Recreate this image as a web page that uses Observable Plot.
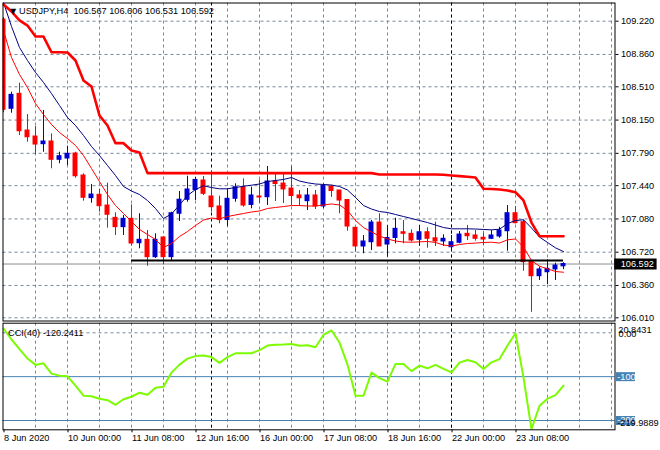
<!DOCTYPE html>
<html><head><meta charset="utf-8">
<script src="https://cdn.jsdelivr.net/npm/d3@7"></script>
<script src="https://cdn.jsdelivr.net/npm/@observablehq/plot@0.6"></script>
<style>
html,body{margin:0;padding:0;background:#fff;}
#chart{position:relative;width:660px;height:450px;overflow:hidden;background:#fff;}
#chart svg{position:absolute;left:0;display:block;overflow:visible;}
</style></head><body><div id="chart"></div>
<script>
// ---------- data (USDJPY H4) ----------
const titleText = "USDJPY,H4  106.567 106.606 106.531 106.592";
const cciTitle = "CCI(40) -120.2411";

const opens = [
109.238,108.272,108.434,108.037,107.972,107.889,107.918,107.720,107.734,107.788,
107.550,107.305,107.341,107.225,107.092,106.991,107.081,106.817,106.854,106.666,
106.879,106.666,107.136,107.287,107.393,107.496,107.323,107.215,107.068,107.298,
107.423,107.231,107.323,107.315,107.485,107.463,107.409,107.334,107.272,107.334,
107.215,107.431,107.388,107.285,106.984,106.782,106.828,107.041,106.803,106.874,
106.936,106.919,106.854,106.936,106.871,106.836,106.774,106.822,106.919,106.901,
106.876,106.865,106.890,106.947,107.142,107.045,106.622,106.460,106.503,106.533,
106.567];
const highs = [
109.260,108.452,108.549,108.210,108.080,108.254,108.001,107.802,107.867,107.802,
107.568,107.453,107.399,107.467,107.146,107.117,107.233,107.136,106.955,106.919,
106.890,107.153,107.377,107.542,107.529,107.539,107.599,107.326,107.406,107.460,
107.514,107.423,107.501,107.647,107.568,107.561,107.647,107.388,107.409,107.388,
107.458,107.442,107.388,107.287,106.984,106.901,107.063,107.136,107.009,107.088,
107.063,106.962,107.009,106.984,107.045,106.908,106.901,106.944,107.009,106.955,
106.926,106.955,106.990,107.225,107.215,107.071,106.630,106.558,106.638,106.601,
106.606];
const lows = [
108.230,108.224,107.983,107.910,107.777,107.802,107.623,107.677,107.658,107.521,
107.272,107.250,107.153,106.980,106.901,106.901,106.785,106.757,106.568,106.652,
106.584,106.619,107.052,107.261,107.280,107.334,107.153,107.027,106.998,107.261,
107.207,107.190,107.247,107.225,107.269,107.247,107.225,107.215,107.171,107.182,
107.193,107.313,107.136,106.947,106.720,106.703,106.738,106.782,106.666,106.811,
106.811,106.828,106.782,106.763,106.782,106.782,106.727,106.811,106.846,106.839,
106.792,106.857,106.871,106.731,107.027,106.514,106.070,106.414,106.370,106.414,
106.531];
const closes = [
108.261,108.423,108.029,107.964,107.885,107.918,107.720,107.759,107.785,107.542,
107.309,107.344,107.218,107.125,106.991,107.081,106.814,106.854,106.666,106.854,
106.666,107.142,107.288,107.399,107.502,107.352,107.207,107.068,107.298,107.423,
107.225,107.334,107.312,107.485,107.458,107.399,107.328,107.304,107.334,107.215,
107.436,107.382,107.279,106.998,106.782,106.836,107.041,106.782,106.874,106.973,
106.919,106.846,106.936,106.865,106.836,106.865,106.828,106.911,106.893,106.865,
106.857,106.901,106.955,107.142,107.034,106.612,106.460,106.533,106.540,106.576,
106.592];
// thick red stepped envelope
const upperLine = [
109.401,109.325,109.228,109.173,109.054,109.054,108.884,108.884,108.881,108.795,
108.578,108.513,108.199,108.091,107.900,107.900,107.821,107.799,107.576,107.576,
107.576,107.576,107.576,107.576,107.576,107.576,107.576,107.576,107.576,107.576,
107.576,107.576,107.576,107.576,107.576,107.576,107.576,107.576,107.576,107.576,
107.576,107.576,107.576,107.576,107.576,107.576,107.576,107.561,107.561,107.561,
107.561,107.561,107.561,107.561,107.561,107.558,107.550,107.543,107.536,107.528,
107.406,107.404,107.398,107.388,107.369,107.280,107.041,106.893,106.893,106.893,
106.893];
// slow moving average (navy)
const slowMA = [
109.422,109.163,108.935,108.795,108.665,108.557,108.437,108.308,108.178,108.091,
107.983,107.864,107.766,107.658,107.550,107.431,107.382,107.344,107.279,107.193,
107.085,107.133,107.231,107.334,107.398,107.439,107.420,107.406,107.406,107.420,
107.434,107.445,107.458,107.485,107.496,107.507,107.528,107.490,107.471,107.458,
107.453,107.447,107.431,107.393,107.312,107.225,107.187,107.160,107.150,107.128,
107.106,107.085,107.063,107.041,107.014,106.987,106.973,106.973,106.973,106.971,
106.966,106.962,106.969,107.030,107.063,107.071,106.982,106.884,106.825,106.767,
106.727];
// fast moving average (red)
const fastMA = [
109.119,108.827,108.643,108.502,108.329,108.210,108.102,108.015,107.950,107.875,
107.766,107.626,107.485,107.344,107.225,107.139,107.052,106.966,106.911,106.857,
106.771,106.814,106.890,106.944,107.009,107.068,107.090,107.081,107.106,107.123,
107.139,107.155,107.166,107.193,107.204,107.214,107.225,107.225,107.220,107.220,
107.231,107.242,107.231,107.171,107.063,106.987,106.939,106.895,106.863,106.841,
106.830,106.828,106.832,106.836,106.825,106.798,106.787,106.803,106.814,106.819,
106.825,106.828,106.819,106.854,106.863,106.776,106.630,106.568,106.540,106.511,
106.503];
// CCI(40)
const cci = [
9.8,-15.3,-37.1,-58.8,-73.2,-69.6,-93.1,-97.7,-99.3,-120.6,
-143.5,-144.6,-150.3,-153.8,-164.1,-151.5,-145.8,-136.6,-141.2,-125.2,
-122.9,-90.8,-72.5,-58.8,-53.1,-51.9,-55.4,-68.6,-55.4,-46.7,
-46.7,-46.7,-39.4,-29.1,-27.5,-26.8,-25.6,-29.7,-28.4,-33.0,
-5.0,5.3,-22.2,-72.5,-143.5,-143.5,-90.8,-103.4,-111.4,-70.9,
-70.9,-87.4,-74.8,-81.0,-73.2,-82.4,-90.2,-68.0,-62.2,-67.3,
-82.4,-67.3,-60.0,-29.1,-1.0,-102.1,-219.9889,-166.4,-150.3,-142.3,
-120.2411];
const cciLevels = [-100, -200];
const cciMaxLabel = "20.8431", cciMaxValue = 20.8431;
const cciMinLabel = "-219.9889", cciMinValue = -219.9889;
const cciZeroLabel = "0.00";

const priceTickLabels = ["106.010","106.360","106.720","107.080","107.440","107.790","108.150","108.510","108.860","109.220"];
const dateTickIndex = [0, 8, 16, 24, 32, 40, 48, 56, 64];
const dateTickLabels = ["8 Jun 2020","10 Jun 00:00","11 Jun 08:00","12 Jun 16:00","16 Jun 00:00","17 Jun 08:00","18 Jun 16:00","22 Jun 00:00","23 Jun 08:00"];
const weekStartIndex = [26, 56];
const supportLevel = 106.630, supportFrom = 16;

// ---------- build ----------
const priceTickValues = priceTickLabels.map(Number);
const last = closes.length - 1;
const bars = d3.range(closes.length).map(i => ({
  i, open: opens[i], high: highs[i], low: lows[i], close: closes[i],
  up: closes[i] >= opens[i], upper: upperLine[i], slow: slowMA[i], fast: fastMA[i], cci: cci[i]
}));
const BULL = "#0000cd", BEAR = "#ff0000", GRID = "#778899";
const FONT = "'Liberation Sans', Arial, sans-serif";
const FS = "9.2px";
const gridIndex = d3.range(4, 77, 4);
const dash = "3,3";

const main = Plot.plot({
  width: 660, height: 321,
  marginLeft: 2.5, marginRight: 45.5, marginTop: 2.5, marginBottom: 0.5,
  style: {fontFamily: FONT, fontSize: FS, color: "#000", background: "transparent", overflow: "visible"},
  color: {type: "identity"},
  x: {domain: [0, 76], range: [3, 611], axis: null},
  y: {domain: [106.01, 109.22], range: [317.3, 20.7], axis: null},
  marks: [
    Plot.ruleY(priceTickValues, {stroke: GRID, strokeDasharray: dash}),
    Plot.ruleX(gridIndex, {stroke: GRID, strokeDasharray: dash}),
    Plot.ruleX(weekStartIndex, {stroke: "#000", strokeDasharray: dash}),
    Plot.ruleY([closes[last]], {stroke: "#8a8f96"}),
    Plot.ruleX(bars, {x: "i", y1: "low", y2: "high", stroke: d => d.up ? BULL : BEAR, clip: true}),
    Plot.rect(bars, {x1: d => d.i - 0.31, x2: d => d.i + 0.31,
      y1: d => Math.min(d.open, d.close), y2: d => Math.max(d.open, d.close),
      insetTop: -0.5, insetBottom: -0.5,
      fill: d => d.up ? BULL : BEAR, clip: true}),
    Plot.line(bars, {x: "i", y: "fast", stroke: "#ff0000", strokeWidth: 1, clip: true}),
    Plot.line(bars, {x: "i", y: "slow", stroke: "#000080", strokeWidth: 1, clip: true}),
    Plot.line(bars, {x: "i", y: "upper", stroke: "#ff0000", strokeWidth: 2.6, clip: true}),
    Plot.ruleY([supportLevel], {x1: supportFrom, x2: last, stroke: "#000", strokeWidth: 2}),
    Plot.frame({stroke: "#000"}),
    Plot.axisY({anchor: "right", ticks: priceTickValues, label: null,
      tickFormat: d => priceTickLabels[priceTickValues.indexOf(d)],
      tickSize: 3, tickPadding: 3, stroke: "#000"}),
    Plot.ruleY([closes[last]], {x1: 76.4, x2: 81.7, stroke: "#000", strokeWidth: 11}),
    Plot.text([closes[last]], {x: 76.4, y: d => d, text: d => d.toFixed(3), dx: 6, textAnchor: "start", fill: "#fff"}),
    Plot.text([titleText], {frameAnchor: "top-left", dx: 16, dy: 8, textAnchor: "start", lineAnchor: "middle", fill: "#000"}),
    Plot.text(["\u25BC"], {frameAnchor: "top-left", dx: 7, dy: 8, fontSize: 8, fontFamily: "DejaVu Sans", lineAnchor: "middle", fill: "#000"})
  ]
});

const sub = Plot.plot({
  width: 660, height: 129,
  marginLeft: 2.5, marginRight: 45.5, marginTop: 1.7, marginBottom: 20.7,
  style: {fontFamily: FONT, fontSize: FS, color: "#000", background: "transparent", overflow: "visible"},
  x: {domain: [0, 76], range: [3, 611], label: null},
  y: {domain: [-200, 0], range: [99, 11.3], axis: null},
  marks: [
    Plot.ruleX(gridIndex, {stroke: GRID, strokeDasharray: dash}),
    Plot.ruleX(weekStartIndex, {stroke: "#000", strokeDasharray: dash}),
    Plot.ruleY([0], {stroke: GRID, strokeDasharray: dash}),
    Plot.ruleY(cciLevels, {stroke: "#4682b4"}),
    Plot.line(bars, {x: "i", y: "cci", stroke: "#7cfc00", strokeWidth: 2, clip: true}),
    Plot.frame({stroke: "#000"}),
    Plot.text([cciTitle], {frameAnchor: "top-left", dx: 5, dy: 9.6, textAnchor: "start", lineAnchor: "middle", fill: "#000"}),
    Plot.ruleY(cciLevels, {x1: 76.6, x2: 79.0, stroke: "#4682b4", strokeWidth: 9}),
    Plot.text(cciLevels, {x: 76.6, y: d => d, text: d => String(d), dx: 1, textAnchor: "start", fill: "#fff"}),
    Plot.text([cciMaxValue], {x: 76.6, y: d => d, text: () => cciMaxLabel, dx: 2, dy: 6.2, textAnchor: "start", fill: "#000"}),
    Plot.text([0], {x: 76.6, y: d => d, text: () => cciZeroLabel, dx: 2.3, dy: 1, textAnchor: "start", fill: "#000"}),
    Plot.text([cciMinValue], {x: 76.6, y: d => d, text: () => cciMinLabel, dx: 1, dy: -6, textAnchor: "start", fill: "#000"}),
    Plot.axisX({anchor: "bottom", ticks: dateTickIndex, label: null,
      tickFormat: d => dateTickLabels[dateTickIndex.indexOf(d)],
      tickSize: 3, tickPadding: 1.5, textAnchor: "start", dx: 0.5, stroke: "#000"})
  ]
});

const host = document.getElementById("chart");
main.style.top = "0px";
sub.style.top = "321px";
host.appendChild(main);
host.appendChild(sub);
</script>
</body></html>
